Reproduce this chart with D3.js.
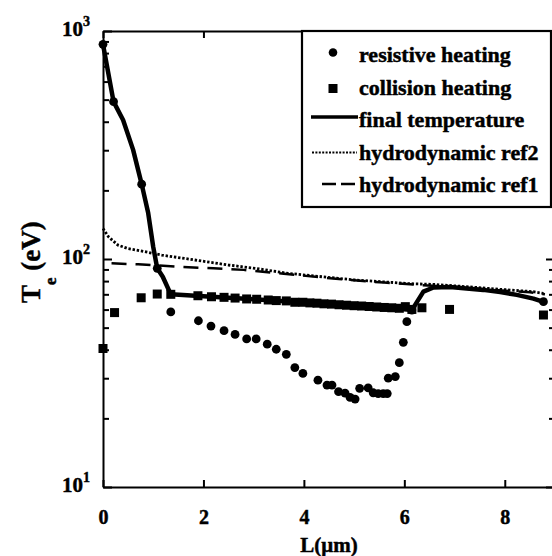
<!DOCTYPE html>
<html>
<head>
<meta charset="UTF-8">
<title>Te vs L</title>
<script src="https://d3js.org/d3.v7.min.js"></script>
<style>
  body { margin: 0; background: #fff; }
  text { font-family: "Liberation Serif", "Times New Roman", serif; font-weight: bold; fill: #000;
         stroke: #000; stroke-width: 0.45; }
  .axis path, .axis line { stroke: #000; stroke-width: 2; }
</style>
</head>
<body>
<svg id="chart" width="552" height="556"></svg>
<script>
// values
const resistiveL = [0, 0.21, 0.77, 1.08, 1.35, 1.90, 2.15, 2.41, 2.63, 2.86, 3.05, 3.27, 3.45, 3.65, 3.82, 3.98,
  4.28, 4.46, 4.56, 4.69, 4.82, 4.92, 5.02, 5.11, 5.28, 5.38, 5.48, 5.58, 5.66, 5.68, 5.82, 5.90, 5.98, 6.05, 6.15, 8.77];
const resistiveT = [874, 490, 213, 91, 58.6, 53.6, 50.8, 48.5, 46.7, 44.6, 44.6, 42.3, 40.2, 38.2, 33.4, 31.5,
  29.4, 28.0, 28.0, 26.2, 25.8, 24.7, 24.3, 27.1, 27.2, 25.9, 25.7, 25.7, 25.7, 30.0, 30.5, 35.1, 43.1, 53.1, 59.7, 65.0];

const collisionL = [0, 0.23, 0.76, 1.08, 1.35, 1.89, 2.16, 2.41, 2.63, 2.86, 3.06, 3.29, 3.45, 3.65, 3.82, 3.98,
  4.12, 4.26, 4.40, 4.55, 4.70, 4.85, 5.00, 5.15, 5.30, 5.45, 5.60, 5.75, 5.90, 6.02, 6.15, 6.35, 6.90, 8.77];
const collisionT = [40.5, 58.2, 67.6, 70.2, 70.0, 69.0, 68.3, 67.9, 67.4, 66.8, 66.6, 66.1, 65.7, 65.5, 64.6, 64.6,
  64.2, 64.0, 63.6, 63.4, 63.0, 62.7, 62.4, 62.2, 61.9, 61.6, 61.3, 61.1, 60.8, 61.8, 60.1, 61.1, 60.1, 56.8];

const finalL = [0, 0.21, 0.40, 0.60, 0.77, 0.90, 1.00, 1.08, 1.19, 1.35, 2.0, 3.0, 4.0, 5.0, 5.6, 6.15,
  6.38, 6.58, 6.91, 7.24, 7.57, 7.91, 8.24, 8.57, 8.77];
const finalT = [874, 490, 407, 301, 213, 159, 113, 91, 83.6, 70.0, 68.7, 66.6, 64.5, 62.6, 61.5, 59.7,
  71.9, 75.0, 75.3, 74.2, 73.2, 71.6, 69.6, 67.0, 64.8];

const ref2L = [0, 0.11, 0.30, 0.50, 0.83, 1.17, 1.83, 2.50, 3.03, 3.69, 4.36, 5.02, 5.69, 6.12, 6.57, 7.24, 7.91, 8.57, 8.77];
const ref2T = [136, 125, 115, 111, 107.7, 104, 99, 94.1, 91.0, 86.5, 83.6, 80.9, 79.1, 77.9, 77.4, 75.6, 73.6, 71.9, 70.6];

const ref1L = [0.17, 0.7, 1.5, 2.2, 2.8, 3.6, 4.3, 5.0, 5.6, 6.2, 7.0, 7.8, 8.5, 8.8];
const ref1T = [95.7, 94.8, 92.5, 91.0, 89.6, 86.2, 83.2, 80.6, 78.8, 77.2, 75.3, 73.2, 71.4, 70.0];

const xTicks = [0, 2, 4, 6, 8];
const yMajor = [10, 100, 1000];
const yMinor = [20, 30, 40, 50, 60, 70, 80, 90, 200, 300, 400, 500, 600, 700, 800, 900];
const yExp = ["1", "2", "3"];
const legendLabels = ["resistive heating", "collision heating", "final temperature", "hydrodynamic ref2", "hydrodynamic ref1"];

const svg = d3.select("#chart");

const x = d3.scaleLinear().domain([0, 9]).range([103, 555]);
const y = d3.scaleLog().domain([10, 1000]).range([487, 31]);

const pts = (L, T) => L.map((d, i) => ({ l: d, t: T[i] }));
const line = d3.line().x(d => x(d.l)).y(d => y(d.t));

// reference curves
svg.append("path").datum(pts(ref2L, ref2T))
  .attr("fill", "none").attr("stroke", "#000").attr("stroke-width", 2.8)
  .attr("stroke-dasharray", "2.4,1.8").attr("d", line);
svg.append("path").datum(pts(ref1L, ref1T))
  .attr("fill", "none").attr("stroke", "#000").attr("stroke-width", 2.5)
  .attr("stroke-dasharray", "15,9").attr("d", line);

// final temperature
svg.append("path").datum(pts(finalL, finalT))
  .attr("fill", "none").attr("stroke", "#000").attr("stroke-width", 4.5)
  .attr("stroke-linejoin", "round").attr("d", line);

// markers
svg.selectAll(".sq").data(pts(collisionL, collisionT)).join("rect")
  .attr("x", d => x(d.l) - 4.5).attr("y", d => y(d.t) - 4.5)
  .attr("width", 9).attr("height", 9).attr("fill", "#000");
svg.selectAll(".dot").data(pts(resistiveL, resistiveT)).join("circle")
  .attr("cx", d => x(d.l)).attr("cy", d => y(d.t)).attr("r", 4.4).attr("fill", "#000");

// axes, ticks pointing inward
svg.append("g").attr("class", "axis").attr("transform", "translate(0,487)")
  .call(d3.axisBottom(x).tickValues(xTicks).tickSize(-7).tickSizeOuter(0).tickPadding(23))
  .call(g => g.selectAll("text").attr("font-size", 20).attr("font-family", null).attr("fill", "#000"));
svg.append("g").attr("class", "axis").attr("transform", "translate(0,31)")
  .call(d3.axisTop(x).tickValues(xTicks).tickSize(-7).tickSizeOuter(0).tickFormat(""));

const leftAxis = svg.append("g").attr("class", "axis").attr("transform", "translate(103,0)");
leftAxis.call(d3.axisLeft(y).tickValues(yMajor).tickSize(-9).tickSizeOuter(0).tickFormat(""));
leftAxis.append("g").call(d3.axisLeft(y).tickValues(yMinor).tickSize(-6).tickSizeOuter(0).tickFormat(""))
  .call(g => g.select(".domain").remove());
const rightAxis = svg.append("g").attr("class", "axis").attr("transform", "translate(555,0)");
rightAxis.call(d3.axisRight(y).tickValues(yMajor).tickSize(-9).tickSizeOuter(0).tickFormat(""));
rightAxis.append("g").call(d3.axisRight(y).tickValues(yMinor).tickSize(-6).tickSizeOuter(0).tickFormat(""))
  .call(g => g.select(".domain").remove());

// y tick labels 10^n
yMajor.forEach((v, i) => {
  const t = svg.append("text").attr("x", 90).attr("y", y(v) + 5).attr("text-anchor", "end").attr("font-size", 21);
  t.append("tspan").text("10");
  t.append("tspan").attr("font-size", 14).attr("dy", -10).text(yExp[i]);
});

// axis titles
svg.append("text").attr("x", 329).attr("y", 552).attr("text-anchor", "middle").attr("font-size", 21).text("L(μm)");
const yt = svg.append("text").attr("transform", "translate(40,303) rotate(-90)").attr("font-size", 27);
yt.append("tspan").text("T");
yt.append("tspan").attr("font-size", 17).attr("dy", 16).text("e");
yt.append("tspan").attr("dy", -16).text(" (eV)");

// legend
const lg = svg.append("g");
lg.append("rect").attr("x", 302).attr("y", 31).attr("width", 249).attr("height", 176)
  .attr("fill", "#fff").attr("stroke", "#000").attr("stroke-width", 2.2);
const rowY = i => 62 + i * 32.5;
legendLabels.forEach((s, i) => {
  lg.append("text").attr("x", 359).attr("y", rowY(i)).attr("font-size", 22).text(s);
});
lg.append("circle").attr("cx", 333).attr("cy", rowY(0) - 9.5).attr("r", 4.3).attr("fill", "#000");
lg.append("rect").attr("x", 328.5).attr("y", rowY(1) - 10.5).attr("width", 9).attr("height", 9).attr("fill", "#000");
lg.append("line").attr("x1", 311).attr("x2", 358).attr("y1", rowY(2) - 10).attr("y2", rowY(2) - 10)
  .attr("stroke", "#000").attr("stroke-width", 3.5);
lg.append("line").attr("x1", 312).attr("x2", 357).attr("y1", rowY(3) - 7).attr("y2", rowY(3) - 7)
  .attr("stroke", "#000").attr("stroke-width", 2.2).attr("stroke-dasharray", "2,1.4");
lg.append("line").attr("x1", 322).attr("x2", 355).attr("y1", rowY(4) - 8).attr("y2", rowY(4) - 8)
  .attr("stroke", "#000").attr("stroke-width", 2.4).attr("stroke-dasharray", "14,5");
</script>
</body>
</html>
